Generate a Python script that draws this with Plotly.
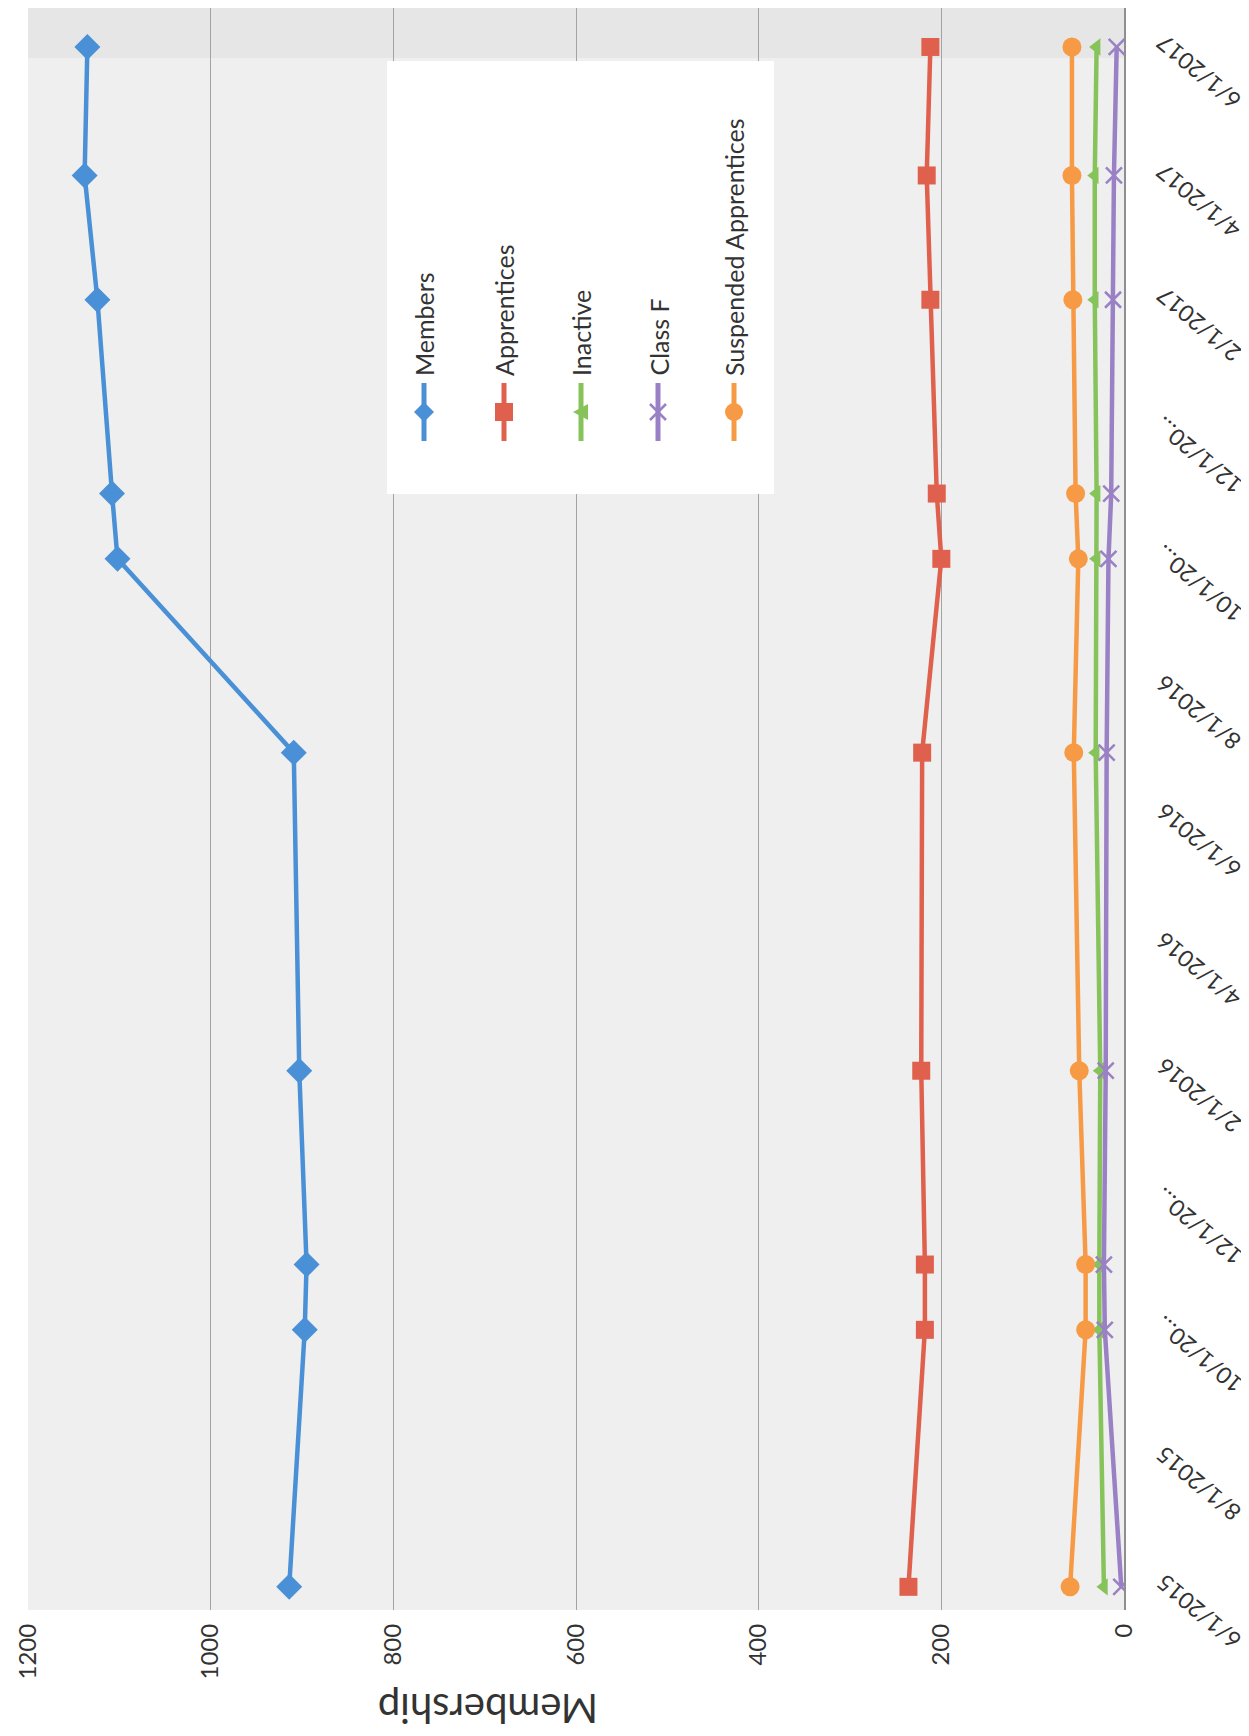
import plotly.graph_objects as go

# ---------------- data ----------------
dates = ["2015-06-01", "2015-10-01", "2015-11-01", "2016-02-01", "2016-07-01",
         "2016-10-01", "2016-11-01", "2017-02-01", "2017-04-01", "2017-06-01"]
members = [914, 897, 895, 903, 909, 1102, 1108, 1124, 1138, 1135]
apprentices = [236, 218, 218, 222, 221, 200, 205, 212, 216, 212]
inactive = [22, 27, 27, 26, 31, 30, 30, 32, 32, 30]
class_f = [3, 21, 22, 20, 19, 17, 14, 12, 11, 8]
suspended = [59, 42, 42, 49, 55, 50, 53, 56, 57, 57]

series_names = ["Members", "Apprentices", "Inactive", "Class F", "Suspended Apprentices"]
value_ticks = [0, 200, 400, 600, 800, 1000, 1200]
date_tickvals = ["2015-06-01", "2015-08-01", "2015-10-01", "2015-12-01", "2016-02-01",
                 "2016-04-01", "2016-06-01", "2016-08-01", "2016-10-01", "2016-12-01",
                 "2017-02-01", "2017-04-01", "2017-06-01"]
date_ticktext = ["6/1/2015", "8/1/2015", "10/1/20…", "12/1/20…", "2/1/2016",
                 "4/1/2016", "6/1/2016", "8/1/2016", "10/1/20…", "12/1/20…",
                 "2/1/2017", "4/1/2017", "6/1/2017"]
axis_title = "Membership"

# ---------------- styles ----------------
colors = ["#4A90D6", "#E0604E", "#86C35A", "#9A80C4", "#F79A45"]
symbols = ["diamond", "square", "triangle-left", "x-thin-open", "circle"]
sizes = [20, 18, 15, 16, 19]
values = [members, apprentices, inactive, class_f, suspended]

W, H = 1249, 1736
ML, MR, MT, MB = 20, 133, 0, 134
PW, PH = W - ML - MR, H - MT - MB
FONT = "Lato, 'Open Sans', Arial, sans-serif"
TXT = "#333333"


def px(xp):
    return (xp - ML) / PW


def py(yp):
    return 1 - (yp - MT) / PH


fig = go.Figure()
for name, vals, col, sym, sz in zip(series_names, values, colors, symbols, sizes):
    fig.add_trace(go.Scatter(
        x=vals, y=dates, mode="lines+markers", name=name,
        line=dict(color=col, width=4.5),
        marker=dict(symbol=sym, size=sz, color=col,
                    line=dict(color=col, width=2.5 if sym.startswith("x") else 0)),
        showlegend=False,
    ))

shapes = []
annotations = []

# speckled band at top of scan
shapes.append(dict(type="rect", xref="paper", yref="paper", x0=0, x1=1,
                   y0=py(50), y1=1, fillcolor="#e6e6e6", line=dict(width=0), layer="below"))

# legend box
shapes.append(dict(type="rect", xref="paper", yref="paper",
                   x0=px(379), x1=px(766), y0=py(486), y1=py(53),
                   fillcolor="white", line=dict(width=0), layer="above"))
leg_x = [416, 496, 573, 650, 726]
marker_paths = {
    "diamond": "M 0,10 L 10,0 L 0,-10 L -10,0 Z",
    "square": "M -9,-9 L 9,-9 L 9,9 L -9,9 Z",
    "triangle-left": "M -8,0 L 7,8 L 7,-8 Z",
    "x-thin-open": "M -8,-8 L 8,8 M -8,8 L 8,-8",
}
for name, col, sym, lx in zip(series_names, colors, symbols, leg_x):
    shapes.append(dict(type="line", xref="paper", yref="paper",
                       xsizemode="pixel", ysizemode="pixel",
                       xanchor=px(lx), yanchor=py(404),
                       x0=0, x1=0, y0=-29, y1=29,
                       line=dict(color=col, width=5), layer="above"))
    if sym == "circle":
        shapes.append(dict(type="circle", xref="paper", yref="paper",
                           xsizemode="pixel", ysizemode="pixel",
                           xanchor=px(lx), yanchor=py(404),
                           x0=-9, x1=9, y0=-9, y1=9,
                           fillcolor=col, line=dict(width=0), layer="above"))
    else:
        is_x = sym.startswith("x")
        shapes.append(dict(type="path", xref="paper", yref="paper",
                           xsizemode="pixel", ysizemode="pixel",
                           xanchor=px(lx), yanchor=py(404),
                           path=marker_paths[sym],
                           fillcolor=("rgba(0,0,0,0)" if is_x else col),
                           line=dict(color=col, width=2.5 if is_x else 0), layer="above"))
    annotations.append(dict(text=name, xref="paper", yref="paper",
                            x=px(lx), y=py(370), xanchor="center", yanchor="bottom",
                            textangle=-90, showarrow=False,
                            font=dict(family=FONT, size=25, color=TXT)))

# date axis labels (rotated, upside down, hanging to the lower right of each date)
for tv, tt in zip(date_tickvals, date_ticktext):
    annotations.append(dict(text=tt, xref="paper", yref="y",
                            x=px(1190), y=tv, xanchor="center", yanchor="middle",
                            yshift=-25,
                            textangle=-140, showarrow=False,
                            font=dict(family=FONT, size=23, color=TXT)))

# value axis title (upside down)
annotations.append(dict(text=axis_title, xref="paper", yref="paper",
                        x=px(480), y=py(1701), xanchor="center", yanchor="middle",
                        textangle=180, showarrow=False,
                        font=dict(family=FONT, size=40, color=TXT)))

# scan page edge line
shapes.append(dict(type="line", xref="paper", yref="paper",
                   x0=px(1245), x1=px(1245), y0=py(1736), y1=py(770),
                   line=dict(color="#9a9a9a", width=1)))

fig.update_layout(
    width=W, height=H,
    margin=dict(l=ML, r=MR, t=MT, b=MB, pad=0),
    paper_bgcolor="white", plot_bgcolor="#efefef",
    shapes=shapes, annotations=annotations,
    font=dict(family=FONT, color=TXT),
    xaxis=dict(
        range=[1200, 0], tickvals=value_ticks, ticktext=[str(v) for v in value_ticks],
        tickangle=-90, showgrid=True, gridcolor="#a3a3a3", gridwidth=1,
        zeroline=False, showline=False, ticks="", ticklabelstandoff=8,
        tickfont=dict(family=FONT, size=24, color=TXT),
    ),
    yaxis=dict(
        type="date", range=["2015-05-21", "2017-06-19 12:00"],
        showticklabels=False, side="right", showgrid=False, zeroline=False,
        showline=True, linecolor="#8f8f8f", linewidth=1.5, mirror=False,
        ticks="",
    ),
)

fig.write_html("out.html")
